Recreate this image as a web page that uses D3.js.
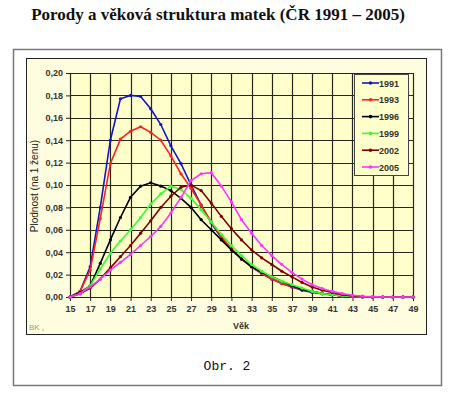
<!DOCTYPE html>
<html lang="cs">
<head>
<meta charset="utf-8">
<title>Porody a věková struktura matek</title>
<script src="https://d3js.org/d3.v7.min.js"></script>
<style type="text/css">
body { margin: 0; background: #fff; }
svg  { display: block; }
.tick text { font-family: Arial, "Liberation Sans", sans-serif; font-size: 9px; font-weight: bold; fill: #333; }
</style>
</head>
<body>
<script type="text/javascript">

// ages 15 .. 49
var ages = d3.range(15, 50);

var years = ["1991", "1993", "1996", "1999", "2002", "2005"];
var colors = ["#1414c8", "#ff2020", "#000000", "#33ff33", "#800000", "#ff33ff"];

var v1991 = [0, 0.005, 0.027, 0.080, 0.140, 0.177, 0.180, 0.179, 0.168, 0.154, 0.135, 0.119, 0.100, 0.082,
             0.066, 0.053, 0.043, 0.034, 0.027, 0.021, 0.016, 0.012, 0.009, 0.006, 0.004, 0.003, 0.002,
             0.001, 0.0005, 0, 0, 0, 0, 0, 0];
var v1993 = [0, 0.005, 0.024, 0.070, 0.119, 0.141, 0.148, 0.152, 0.147, 0.140, 0.126, 0.110, 0.097, 0.082,
             0.067, 0.054, 0.043, 0.034, 0.027, 0.021, 0.016, 0.012, 0.009, 0.007, 0.005, 0.003, 0.002,
             0.001, 0.0005, 0, 0, 0, 0, 0, 0];
var v1996 = [0, 0.004, 0.010, 0.030, 0.051, 0.071, 0.089, 0.099, 0.102, 0.099, 0.095, 0.088, 0.080, 0.069,
             0.060, 0.051, 0.042, 0.034, 0.027, 0.022, 0.018, 0.014, 0.010, 0.007, 0.005, 0.003, 0.002,
             0.001, 0.0005, 0, 0, 0, 0, 0, 0];
var v1999 = [0, 0.003, 0.010, 0.025, 0.039, 0.050, 0.060, 0.071, 0.083, 0.092, 0.099, 0.096, 0.088, 0.078,
             0.067, 0.056, 0.046, 0.037, 0.029, 0.023, 0.018, 0.014, 0.011, 0.008, 0.005, 0.003, 0.002,
             0.001, 0.0005, 0, 0, 0, 0, 0, 0];
var v2002 = [0, 0.003, 0.008, 0.016, 0.026, 0.036, 0.046, 0.057, 0.068, 0.080, 0.090, 0.098, 0.100, 0.095,
             0.084, 0.072, 0.061, 0.051, 0.042, 0.035, 0.029, 0.023, 0.018, 0.013, 0.009, 0.006, 0.004,
             0.002, 0.001, 0.0005, 0, 0, 0, 0, 0];
var v2005 = [0, 0.003, 0.009, 0.016, 0.024, 0.031, 0.038, 0.046, 0.054, 0.063, 0.075, 0.089, 0.104, 0.110,
             0.111, 0.099, 0.085, 0.069, 0.057, 0.046, 0.037, 0.029, 0.022, 0.016, 0.011, 0.0075, 0.005,
             0.003, 0.0015, 0.0007, 0.0003, 0, 0, 0, 0];

var series = [v1991, v1993, v1996, v1999, v2002, v2005];

var xTicks = d3.range(15, 50, 2);
var yTicks = d3.range(0, 0.201, 0.02);

var W = 450, H = 396;
var plot = { left: 70, right: 413, top: 73, bottom: 297 };

var svg = d3.select("body").append("svg")
    .attr("width", W)
    .attr("height", H);

// title
svg.append("text")
    .attr("x", 218).attr("y", 20)
    .attr("text-anchor", "middle")
    .style("font-family", "'Liberation Serif', 'Times New Roman', serif")
    .style("font-size", "17px")
    .style("font-weight", "bold")
    .style("fill", "#111")
    .text("Porody a věková struktura matek (ČR 1991 – 2005)");

// outer frame
svg.append("rect")
    .attr("x", 13.5).attr("y", 49.5)
    .attr("width", 428).attr("height", 336)
    .attr("fill", "#fff")
    .attr("stroke", "#777")
    .attr("stroke-width", 1.5);

// chart area
svg.append("rect")
    .attr("x", 26.5).attr("y", 58.5)
    .attr("width", 400).attr("height", 276)
    .attr("fill", "#fffde0")
    .attr("stroke", "#222")
    .attr("stroke-width", 1);

var x = d3.scaleLinear().domain([15, 49]).range([plot.left, plot.right]);
var y = d3.scaleLinear().domain([0, 0.2]).range([plot.bottom, plot.top]);

// plot area
svg.append("rect")
    .attr("x", plot.left).attr("y", plot.top)
    .attr("width", plot.right - plot.left).attr("height", plot.bottom - plot.top)
    .attr("fill", "#ffffcc");

// grid
var grid = svg.append("g").attr("stroke", "#26261a").attr("stroke-width", 1.2);
grid.selectAll(".hg").data(yTicks).enter().append("line")
    .attr("x1", plot.left).attr("x2", plot.right)
    .attr("y1", function(d) { return Math.round(y(d)) + 0.5; })
    .attr("y2", function(d) { return Math.round(y(d)) + 0.5; });
grid.selectAll(".vg").data(xTicks).enter().append("line")
    .attr("y1", plot.top).attr("y2", plot.bottom)
    .attr("x1", function(d) { return Math.round(x(d)) + 0.5; })
    .attr("x2", function(d) { return Math.round(x(d)) + 0.5; });

// axes
var fmt = function(d) { return d3.format(".2f")(d).replace(".", ","); };
var yAxis = svg.append("g")
    .attr("transform", "translate(" + plot.left + ",0)")
    .call(d3.axisLeft(y).tickValues(yTicks).tickFormat(fmt).tickSize(4).tickPadding(3));
var xAxis = svg.append("g")
    .attr("transform", "translate(0," + plot.bottom + ")")
    .call(d3.axisBottom(x).tickValues(xTicks).tickFormat(d3.format("d")).tickSize(4).tickPadding(5));
yAxis.select(".domain").attr("stroke", "#26261a");
xAxis.select(".domain").attr("stroke", "#26261a");
svg.selectAll(".tick line").attr("stroke", "#26261a");

// axis titles
svg.append("text")
    .attr("transform", "translate(38,186) rotate(-90)")
    .attr("text-anchor", "middle")
    .style("font-family", "Arial, 'Liberation Sans', sans-serif")
    .style("font-size", "10px")
    .style("fill", "#222")
    .text("Plodnost (na 1 ženu)");

svg.append("text")
    .attr("x", 241).attr("y", 329)
    .attr("text-anchor", "middle")
    .style("font-family", "Arial, 'Liberation Sans', sans-serif")
    .style("font-size", "9px")
    .style("font-weight", "bold")
    .style("fill", "#333")
    .text("Věk");

svg.append("text")
    .attr("x", 29).attr("y", 330)
    .style("font-family", "Arial, 'Liberation Sans', sans-serif")
    .style("font-size", "8px")
    .style("fill", "#999")
    .text("BK");
svg.append("circle").attr("cx", 43).attr("cy", 330).attr("r", 1).attr("fill", "#e8d040");

// lines
var line = d3.line()
    .x(function(d, i) { return x(ages[i]); })
    .y(function(d) { return y(d); });

var g = svg.selectAll(".series")
    .data(series)
    .enter().append("g")
    .attr("class", "series");

g.append("path")
    .attr("d", line)
    .attr("fill", "none")
    .attr("stroke", function(d, i) { return colors[i]; })
    .attr("stroke-width", 1.6);

g.each(function(d, i) {
    d3.select(this).selectAll("circle")
        .data(d)
        .enter().append("circle")
        .attr("cx", function(v, j) { return x(ages[j]); })
        .attr("cy", function(v) { return y(v); })
        .attr("r", 1.6)
        .attr("fill", colors[i]);
});

// legend
var leg = svg.append("g").attr("transform", "translate(354,74)");
leg.append("rect")
    .attr("x", 0.5).attr("y", 0.5)
    .attr("width", 54).attr("height", 101)
    .attr("fill", "#ffffcc")
    .attr("stroke", "#444");
var li = leg.selectAll(".li").data(years).enter().append("g")
    .attr("transform", function(d, i) { return "translate(0," + (9 + i * 16.8) + ")"; });
li.append("line")
    .attr("x1", 8).attr("x2", 25)
    .attr("stroke", function(d, i) { return colors[i]; })
    .attr("stroke-width", 1.6);
li.append("circle")
    .attr("cx", 16.5).attr("r", 1.8)
    .attr("fill", function(d, i) { return colors[i]; });
li.append("text")
    .attr("x", 25).attr("y", 3.5)
    .style("font-family", "Arial, 'Liberation Sans', sans-serif")
    .style("font-size", "9px")
    .style("font-weight", "bold")
    .style("fill", "#333")
    .text(function(d) { return d; });

// caption
svg.append("text")
    .attr("x", 227).attr("y", 370)
    .attr("text-anchor", "middle")
    .style("font-family", "'Liberation Mono', 'Courier New', monospace")
    .style("font-size", "13px")
    .style("fill", "#111")
    .text("Obr. 2");

</script>
</body>
</html>
